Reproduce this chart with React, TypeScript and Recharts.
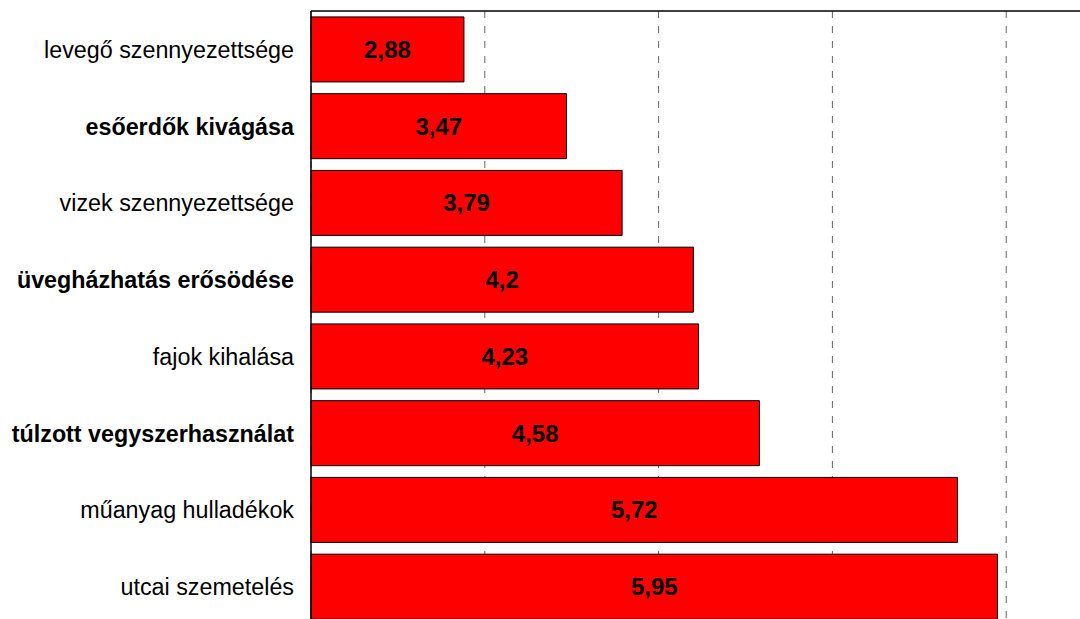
import { BarChart, Bar, XAxis, YAxis, CartesianGrid, LabelList } from 'recharts'

const categories = [
  'levegő szennyezettsége',
  'esőerdők kivágása',
  'vizek szennyezettsége',
  'üvegházhatás erősödése',
  'fajok kihalása',
  'túlzott vegyszerhasználat',
  'műanyag hulladékok',
  'utcai szemetelés',
]
const values = [2.88, 3.47, 3.79, 4.2, 4.23, 4.58, 5.72, 5.95]
const boldRows = [false, true, false, true, false, true, false, false]
const xTicks = [2, 3, 4, 5, 6, 7]

const data = categories.map((name, i) => ({ name, value: values[i] }))

const font = '"Liberation Sans", Arial, sans-serif'

function CategoryTick(props: any) {
  const { x, y, payload, index } = props
  return (
    <text
      x={x}
      y={y}
      dy="0.36em"
      textAnchor="end"
      fontFamily={font}
      fontSize={23.3}
      fontWeight={boldRows[index] ? 'bold' : 'normal'}
      fill="#000"
    >
      {payload.value}
    </text>
  )
}

export default function App() {
  return (
    <div style={{ position: 'fixed', left: 0, top: 0, width: 1080, height: 619, overflow: 'hidden', background: '#fff' }}>
      <BarChart
        width={1190}
        height={630}
        data={data}
        layout="vertical"
        margin={{ top: 10, right: 10, bottom: 5, left: 0 }}
        barCategoryGap="7.7%"
      >
        <CartesianGrid horizontal={false} stroke="#666" strokeDasharray="7 8" />
        <XAxis
          type="number"
          orientation="top"
          domain={[2, 7]}
          ticks={xTicks}
          tick={() => <g />}
          tickLine={false}
          height={1}
          axisLine={{ stroke: '#000', strokeWidth: 1.5 }}
        />
        <YAxis
          type="category"
          dataKey="name"
          width={311}
          tickLine={false}
          tickSize={0}
          tickMargin={17}
          axisLine={{ stroke: '#000', strokeWidth: 1.5 }}
          tick={<CategoryTick />}
        />
        <Bar dataKey="value" fill="#ff0000" stroke="#000" strokeWidth={1} isAnimationActive={false}>
          <LabelList
            dataKey="value"
            position="center"
            formatter={(v: any) => String(v).replace('.', ',')}
            fontFamily={font}
            fontSize={24}
            fontWeight="bold"
            fill="#000"
          />
        </Bar>
      </BarChart>
    </div>
  )
}
